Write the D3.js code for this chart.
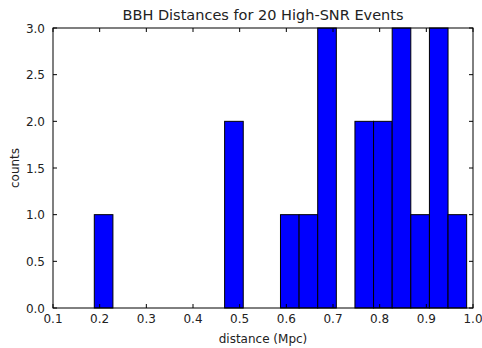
<!DOCTYPE html>
<html>
<head>
<meta charset="utf-8">
<script src="https://cdn.jsdelivr.net/npm/d3@7"></script>
<style>
  body { margin: 0; background: #fff; }
  text { font-family: "DejaVu Sans", sans-serif; fill: #222; }
</style>
</head>
<body>
<svg id="chart"></svg>
<script>
const width = 482, height = 348

// histogram: 20 equal bins between the smallest and largest distance
const binStart = 0.1885
const binEnd = 0.9864
const counts = [1, 0, 0, 0, 0, 0, 0, 2, 0, 0, 1, 1, 3, 0, 2, 2, 3, 1, 3, 1]
const xTicks = [0.1, 0.2, 0.3, 0.4, 0.5, 0.6, 0.7, 0.8, 0.9, 1.0]
const yTicks = [0, 0.5, 1, 1.5, 2, 2.5, 3]

const margin = {top: 28, right: 9, bottom: 40, left: 53}

let svg = d3.select('#chart')
    .attr("width", width)
    .attr("height", height)

let x = d3.scaleLinear().domain([0.1, 1.0]).range([margin.left, width - margin.right])
let y = d3.scaleLinear().domain([0, 3]).range([height - margin.bottom, margin.top])

let binWidth = (binEnd - binStart) / counts.length
let bins = counts.map((c, i) => ({x0: binStart + i * binWidth, x1: binStart + (i + 1) * binWidth, count: c}))

svg.append("g")
    .selectAll("rect")
    .data(bins.filter(d => d.count > 0))
    .enter()
    .append("rect")
    .attr("x", d => x(d.x0))
    .attr("width", d => x(d.x1) - x(d.x0))
    .attr("y", d => y(d.count))
    .attr("height", d => y(0) - y(d.count))
    .attr("fill", "#0000ff")
    .attr("stroke", "#000")
    .attr("stroke-width", 1)

// frame
svg.append("rect")
    .attr("x", margin.left)
    .attr("y", margin.top)
    .attr("width", width - margin.left - margin.right)
    .attr("height", height - margin.top - margin.bottom)
    .attr("fill", "none")
    .attr("stroke", "#000")
    .attr("stroke-width", 1)

// ticks inside, all four sides
let tickLen = 4
let xt = svg.append("g").attr("stroke", "#000")
xTicks.forEach(t => {
    xt.append("line").attr("x1", x(t)).attr("x2", x(t)).attr("y1", y(0)).attr("y2", y(0) - tickLen)
    xt.append("line").attr("x1", x(t)).attr("x2", x(t)).attr("y1", y(3)).attr("y2", y(3) + tickLen)
})
yTicks.forEach(t => {
    xt.append("line").attr("x1", x(0.1)).attr("x2", x(0.1) + tickLen).attr("y1", y(t)).attr("y2", y(t))
    xt.append("line").attr("x1", x(1.0)).attr("x2", x(1.0) - tickLen).attr("y1", y(t)).attr("y2", y(t))
})

svg.append("g")
    .selectAll("text")
    .data(xTicks)
    .enter()
    .append("text")
    .attr("x", d => x(d))
    .attr("y", y(0) + 15)
    .attr("text-anchor", "middle")
    .attr("font-size", 12)
    .text(d => d.toFixed(1))

svg.append("g")
    .selectAll("text")
    .data(yTicks)
    .enter()
    .append("text")
    .attr("x", x(0.1) - 8)
    .attr("y", d => y(d) + 4.5)
    .attr("text-anchor", "end")
    .attr("font-size", 12)
    .text(d => d.toFixed(1))

svg.append("text")
    .attr("x", (x(0.1) + x(1.0)) / 2)
    .attr("y", 20)
    .attr("text-anchor", "middle")
    .attr("font-size", 14.5)
    .text("BBH Distances for 20 High-SNR Events")

svg.append("text")
    .attr("x", (x(0.1) + x(1.0)) / 2)
    .attr("y", height - 5)
    .attr("text-anchor", "middle")
    .attr("font-size", 12)
    .text("distance (Mpc)")

svg.append("text")
    .attr("transform", `translate(19, ${(y(0) + y(3)) / 2}) rotate(-90)`)
    .attr("text-anchor", "middle")
    .attr("font-size", 12)
    .text("counts")
</script>
</body>
</html>
